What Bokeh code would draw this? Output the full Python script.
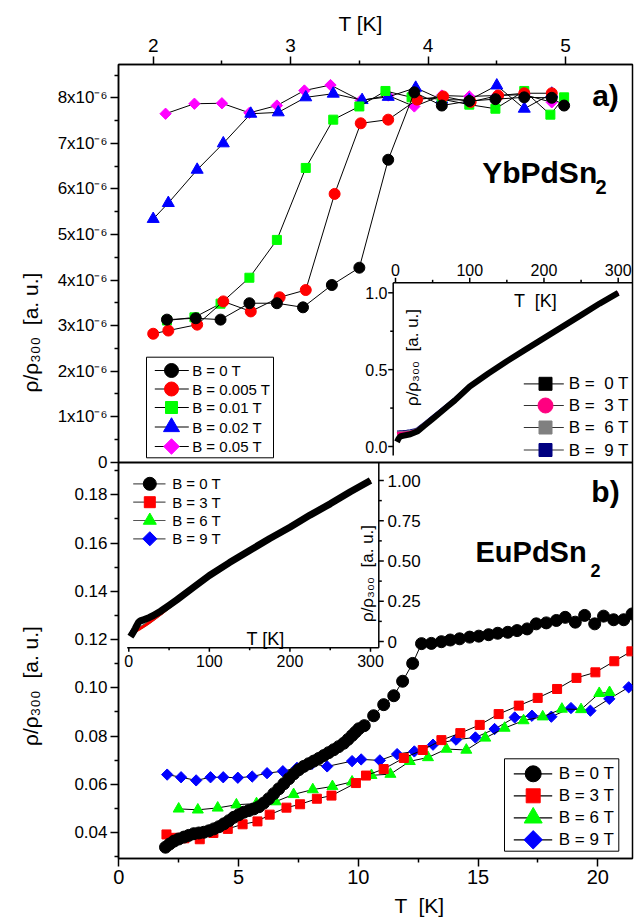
import math
from bokeh.plotting import figure
from bokeh.models import Range1d, LinearAxis, FixedTicker, Label, Span, Title
from bokeh.layouts import row, column
from bokeh.embed import file_html
from bokeh.resources import INLINE
from bokeh.core.properties import value

FONT = "Liberation Sans"

# ================= Panel a) YbPdSn2 : rho/rho300 vs T (low fields) =================
A_T_B0 = [2.10, 2.31, 2.49, 2.70, 2.90, 3.09, 3.30, 3.50, 3.71, 3.90, 4.10, 4.30, 4.49, 4.70, 4.90, 4.99]
A_R_B0 = [3.13e-6, 3.16e-6, 3.13e-6, 3.49e-6, 3.49e-6, 3.40e-6, 3.89e-6, 4.27e-6, 6.64e-6, 8.12e-6,
          7.83e-6, 7.93e-6, 7.97e-6, 8.01e-6, 8.00e-6, 7.83e-6]
A_T_B0005 = [2.00, 2.11, 2.32, 2.51, 2.71, 2.92, 3.11, 3.32, 3.51, 3.71, 3.92, 4.11, 4.31, 4.51, 4.70, 4.90]
A_R_B0005 = [2.82e-6, 2.89e-6, 3.02e-6, 3.53e-6, 3.31e-6, 3.62e-6, 3.78e-6, 5.89e-6, 7.44e-6, 7.52e-6,
             7.96e-6, 8.03e-6, 7.91e-6, 8.05e-6, 8.10e-6, 8.10e-6]
A_T_B001 = [2.10, 2.30, 2.49, 2.70, 2.90, 3.11, 3.31, 3.50, 3.69, 3.88, 4.10, 4.30, 4.49, 4.70, 4.89, 4.99]
A_R_B001 = [3.11e-6, 3.18e-6, 3.48e-6, 4.05e-6, 4.88e-6, 6.46e-6, 7.52e-6, 7.81e-6, 8.15e-6, 8.01e-6,
            7.97e-6, 7.85e-6, 7.76e-6, 8.15e-6, 7.63e-6, 8.01e-6]
A_T_B002 = [2.00, 2.11, 2.32, 2.51, 2.71, 2.91, 3.11, 3.31, 3.52, 3.71, 3.91, 4.10, 4.30, 4.50, 4.70, 4.90]
A_R_B002 = [5.34e-6, 5.69e-6, 6.42e-6, 7.00e-6, 7.65e-6, 7.68e-6, 8.01e-6, 8.09e-6, 7.95e-6, 8.02e-6,
            8.22e-6, 7.96e-6, 7.95e-6, 8.27e-6, 7.76e-6, 8.09e-6]
A_T_B005 = [2.09, 2.30, 2.50, 2.70, 2.90, 3.10, 3.29, 3.51, 3.71, 3.90, 4.10, 4.30, 4.50, 4.70, 4.90]
A_R_B005 = [7.65e-6, 7.87e-6, 7.88e-6, 7.67e-6, 7.83e-6, 8.16e-6, 8.28e-6, 7.94e-6, 8.05e-6, 7.81e-6,
            8.05e-6, 8.03e-6, 8.05e-6, 8.07e-6, 7.90e-6]

A_XTICKS = [2, 3, 4, 5]
A_XMINOR = [2.5, 3.5, 4.5]
A_YTICKS = [0.0, 1e-6, 2e-6, 3e-6, 4e-6, 5e-6, 6e-6, 7e-6, 8e-6]
A_YLABELS = ["0", "1x10⁻⁶", "2x10⁻⁶", "3x10⁻⁶", "4x10⁻⁶", "5x10⁻⁶", "6x10⁻⁶", "7x10⁻⁶", "8x10⁻⁶"]
A_YMINOR = [0.5e-6, 1.5e-6, 2.5e-6, 3.5e-6, 4.5e-6, 5.5e-6, 6.5e-6, 7.5e-6, 8.5e-6]

# inset of panel a): 0-300 K
IA_T = [2, 4, 6, 10, 15, 20, 25, 30, 40, 50, 60, 70, 80, 100, 125, 150, 175, 200, 225, 250, 275, 300]
IA_R_0T = [0.03, 0.05, 0.065, 0.07, 0.075, 0.08, 0.09, 0.10, 0.14, 0.18, 0.22, 0.26, 0.30, 0.39,
           0.475, 0.555, 0.63, 0.705, 0.78, 0.855, 0.93, 1.0]
IA_R_3T = [0.085, 0.086, 0.087, 0.088, 0.09, 0.093, 0.10, 0.11, 0.148, 0.187, 0.226, 0.265, 0.304,
           0.392, 0.477, 0.556, 0.631, 0.706, 0.78, 0.855, 0.93, 1.0]
IA_R_6T = [0.09, 0.09, 0.091, 0.092, 0.094, 0.097, 0.103, 0.113, 0.151, 0.19, 0.229, 0.268, 0.307,
           0.394, 0.478, 0.557, 0.632, 0.707, 0.781, 0.855, 0.93, 1.0]
IA_R_9T = [0.095, 0.095, 0.096, 0.097, 0.099, 0.102, 0.107, 0.117, 0.155, 0.194, 0.233, 0.272, 0.311,
           0.397, 0.48, 0.559, 0.634, 0.708, 0.782, 0.856, 0.93, 1.0]
IA_XTICKS = [0, 100, 200, 300]
IA_XMINOR = [50, 150, 250]
IA_YTICKS = [0.0, 0.5, 1.0]
IA_YLABELS = ["0.0", "0.5", "1.0"]
IA_YMINOR = [0.25, 0.75]

# ================= Panel b) EuPdSn2 =================
B_T_0T = [1.95, 2.12, 2.30, 2.50, 2.72, 2.92, 3.13, 3.34, 3.55, 3.76, 3.97, 4.18, 4.39, 4.60, 4.80,
          5.01, 5.22, 5.43, 5.64, 5.85, 6.05, 6.26, 6.47, 6.68, 6.89, 7.10, 7.30, 7.51, 7.72, 7.93,
          8.14, 8.35, 8.56, 8.76, 8.97, 9.18, 9.39, 9.57, 9.74, 9.88, 10.02,
          10.25, 10.64, 11.06, 11.48, 11.85, 12.27, 12.64, 13.05, 13.47, 13.84, 14.23, 14.65, 15.03,
          15.44, 15.82, 16.24, 16.63, 17.05, 17.43, 17.85, 18.27, 18.64, 19.06, 19.45, 19.87, 20.24,
          20.66, 21.08, 21.43]
B_R_0T = [0.0339, 0.0352, 0.0364, 0.0373, 0.0381, 0.0388, 0.0395, 0.0398, 0.0401, 0.0407, 0.0415,
          0.0424, 0.0436, 0.0449, 0.0463, 0.0474, 0.0484, 0.0491, 0.0498, 0.0507, 0.0522, 0.0540,
          0.0561, 0.0581, 0.0602, 0.0623, 0.0643, 0.0660, 0.0674, 0.0685, 0.0696, 0.0707, 0.0719,
          0.0731, 0.0743, 0.0756, 0.0770, 0.0786, 0.0802, 0.0816, 0.0830,
          0.0843, 0.0884, 0.0930, 0.0967, 0.1027, 0.1101, 0.1183, 0.1184, 0.1191, 0.1198, 0.1203,
          0.1210, 0.1214, 0.1220, 0.1226, 0.1230, 0.1237, 0.1244, 0.1265, 0.1269, 0.1279, 0.1292,
          0.1272, 0.1300, 0.1265, 0.1297, 0.1282, 0.1282, 0.1306]
B_T_3T = [1.99, 2.35, 2.74, 3.38, 3.95, 4.55, 5.17, 5.79, 6.30, 7.00, 7.57, 8.27, 8.88, 9.90, 10.32,
          11.06, 11.90, 12.69, 13.47, 14.26, 15.07, 15.86, 16.70, 17.49, 18.30, 19.11, 19.90, 20.69, 21.40]
B_R_3T = [0.0392, 0.0378, 0.0376, 0.0372, 0.0398, 0.0415, 0.0434, 0.0446, 0.0474, 0.0503, 0.0517,
          0.0540, 0.0553, 0.0605, 0.0636, 0.0663, 0.0709, 0.0742, 0.0783, 0.0812, 0.0846, 0.0891,
          0.0926, 0.0958, 0.0995, 0.1041, 0.1064, 0.1110, 0.1151]
B_T_6T = [2.50, 3.30, 4.13, 4.91, 5.75, 6.55, 7.30, 8.10, 8.92, 9.74, 10.55, 11.34, 12.15, 12.91,
          13.68, 14.51, 15.30, 16.11, 16.90, 17.70, 18.50, 19.30, 20.06, 20.49]
B_R_6T = [0.0498, 0.0494, 0.0502, 0.0515, 0.0520, 0.0528, 0.0558, 0.0578, 0.0591, 0.0610, 0.0637,
          0.0642, 0.0695, 0.0711, 0.0746, 0.0742, 0.0792, 0.0833, 0.0864, 0.0880, 0.0912, 0.0910,
          0.0977, 0.0981]
B_T_9T = [2.02, 2.60, 3.23, 3.83, 4.36, 4.97, 5.57, 6.19, 6.85, 7.44, 8.07, 8.70, 9.74, 10.12, 10.90,
          11.62, 12.34, 13.12, 14.08, 14.89, 15.69, 16.53, 17.25, 18.06, 18.88, 19.69, 20.48, 21.29]
B_R_9T = [0.0640, 0.0629, 0.0616, 0.0629, 0.0629, 0.0627, 0.0632, 0.0646, 0.0654, 0.0668, 0.0685,
          0.0674, 0.0696, 0.0703, 0.0699, 0.0725, 0.0736, 0.0764, 0.0785, 0.0794, 0.0829, 0.0877,
          0.0884, 0.0880, 0.0916, 0.0905, 0.0954, 0.1002]

B_XTICKS = [0, 5, 10, 15, 20]
B_XMINOR = [2.5, 7.5, 12.5, 17.5]
B_YTICKS = [0.04, 0.06, 0.08, 0.10, 0.12, 0.14, 0.16, 0.18]
B_YLABELS = ["0.04", "0.06", "0.08", "0.10", "0.12", "0.14", "0.16", "0.18"]
B_YMINOR = [0.03, 0.05, 0.07, 0.09, 0.11, 0.13, 0.15, 0.17, 0.19]

# inset of panel b): 0-300 K
IB_T = [2, 4, 6, 8, 10, 12, 14, 17, 20, 25, 30, 40, 50, 60, 80, 100, 125, 150, 175, 200, 225, 250, 275, 300]
IB_R_0T = [0.03, 0.045, 0.062, 0.08, 0.10, 0.118, 0.128, 0.132, 0.138, 0.148, 0.16, 0.19, 0.225, 0.26,
           0.335, 0.41, 0.49, 0.565, 0.64, 0.71, 0.785, 0.855, 0.93, 1.0]
IB_R_3T = [0.045, 0.05, 0.056, 0.062, 0.068, 0.074, 0.08, 0.09, 0.10, 0.117, 0.135, 0.172, 0.212, 0.25,
           0.328, 0.405, 0.487, 0.563, 0.639, 0.71, 0.785, 0.855, 0.93, 1.0]
IB_R_6T = [0.05, 0.054, 0.059, 0.064, 0.07, 0.076, 0.082, 0.091, 0.101, 0.118, 0.136, 0.173, 0.213, 0.251,
           0.329, 0.406, 0.488, 0.563, 0.639, 0.71, 0.785, 0.855, 0.93, 1.0]
IB_R_9T = [0.06, 0.062, 0.065, 0.069, 0.074, 0.079, 0.085, 0.093, 0.103, 0.12, 0.137, 0.174, 0.214, 0.252,
           0.33, 0.407, 0.488, 0.564, 0.64, 0.71, 0.785, 0.855, 0.93, 1.0]
IB_XTICKS = [0, 100, 200, 300]
IB_XMINOR = [50, 150, 250]
IB_YTICKS = [0.0, 0.25, 0.5, 0.75, 1.0]
IB_YLABELS = ["0", "0.25", "0.50", "0.75", "1.00"]
IB_YMINOR = [0.125, 0.375, 0.625, 0.875]

LEG_A = ["B = 0 T", "B = 0.005 T", "B = 0.01 T", "B = 0.02 T", "B = 0.05 T"]
LEG_IA = ["B = \u00a00 T", "B = \u00a03 T", "B = \u00a06 T", "B = \u00a09 T"]
LEG_B = ["B = 0 T", "B = 3 T", "B = 6 T", "B = 9 T"]
YLABEL = "ρ/ρ₃₀₀ \u00a0[a. u.]"

# ================= layout (page pixel calibration; page origin = canvas origin) =================
def lin(p, p0, v0, p1, v1):
    return v0 + (p - p0) * (v1 - v0) / (p1 - p0)

PAGE_W, PAGE_H = 635, 919
STRIP_W = 48          # left strip with the rotated y titles
BOT_H = 26            # bottom strip with the x title
MAIN_H = PAGE_H - BOT_H
FL, FR, FT, FB = 118, 632, 64, 858   # frame of main plot, page px
SPLIT = 462

def d_x(px): return lin(px, 118.3, 0.0, 597.3, 20.0)       # panel b T
def d_y(py): return lin(py, 832.0, 0.04, 494.3, 0.18)      # panel b rho
def a_x(px): return lin(px, 152.7, 2.0, 565.0, 5.0)        # panel a T
def a_y(py): return lin(py, 461.7, 0.0, 97.3, 8e-6)        # panel a rho
def ia_x(px): return lin(px, 395.0, 0.0, 617.7, 300.0)
def ia_y(py): return lin(py, 446.0, 0.0, 292.3, 1.0)
def ib_x(px): return lin(px, 128.3, 0.0, 370.0, 300.0)
def ib_y(py): return lin(py, 641.0, 0.0, 480.0, 1.0)

def a_to_d(v):  # position of a panel-a value on the shared left axis
    return d_y(lin(v, 0.0, 461.7, 8e-6, 97.3))

p = figure(width=PAGE_W - STRIP_W, height=MAIN_H,
           x_range=Range1d(d_x(FL), d_x(FR)), y_range=Range1d(d_y(FB), d_y(FT)),
           output_backend="svg", toolbar_location=None, title_location=None,
           min_border_left=FL - STRIP_W, min_border_right=PAGE_W - FR,
           min_border_top=FT, min_border_bottom=MAIN_H - FB)
p.extra_x_ranges = {"xa": Range1d(a_x(FL), a_x(FR)), "iax": Range1d(ia_x(FL), ia_x(FR)),
                    "ibx": Range1d(ib_x(FL), ib_x(FR))}
p.extra_y_ranges = {"ya": Range1d(a_y(FB), a_y(FT)), "iay": Range1d(ia_y(FB), ia_y(FT)),
                    "iby": Range1d(ib_y(FB), ib_y(FT))}
p.xgrid.visible = False
p.ygrid.visible = False
p.outline_line_color = "black"
p.outline_line_width = 1.5
p.background_fill_color = "white"
p.border_fill_color = "white"

def style(ax, fs):
    ax.axis_line_color = "black"; ax.axis_line_width = 1.5
    ax.major_tick_line_color = "black"; ax.major_tick_line_width = 1.5
    ax.minor_tick_line_color = "black"; ax.minor_tick_line_width = 1.5
    ax.major_tick_in = 0; ax.major_tick_out = 8
    ax.minor_tick_in = 0; ax.minor_tick_out = 4
    ax.major_label_text_font = FONT
    ax.major_label_text_font_size = fs
    ax.major_label_text_color = "black"

bax = p.below[0]
bax.ticker = FixedTicker(ticks=B_XTICKS, minor_ticks=B_XMINOR)
style(bax, "20px")
bax.major_label_standoff = 3

lax = p.left[0]
l_ticks = B_YTICKS + [a_to_d(v) for v in A_YTICKS]
l_minor = B_YMINOR + [a_to_d(v) for v in A_YMINOR]
lax.ticker = FixedTicker(ticks=l_ticks, minor_ticks=l_minor)
overrides = {}
for t, s_ in zip(B_YTICKS, B_YLABELS):
    overrides[t] = s_
for t, s_ in zip(A_YTICKS, A_YLABELS):
    overrides[a_to_d(t)] = s_
lax.major_label_overrides = overrides
lax.major_label_standoff = 3
style(lax, "17px")

tax = LinearAxis(x_range_name="xa", ticker=FixedTicker(ticks=A_XTICKS, minor_ticks=A_XMINOR))
style(tax, "19px")
p.add_layout(tax, "above")

# top axis title (T [K]) as a plot title placed above the top axis
p.add_layout(Title(text="T [K]", align="left", offset=338 - FL, standoff=2, text_font=FONT,
                   text_font_size="21px", text_font_style="normal", text_color="black"), "above")

p.add_layout(Span(location=d_y(SPLIT), dimension="width", line_color="black", line_width=2))

# ---------------- helpers ----------------
def txt(xs, ys, texts, size, xr="default", yr="default", align="left", angle=0.0, bold=False, fig=None):
    (fig or p).text(x=xs, y=ys, text=texts, x_range_name=xr, y_range_name=yr, text_font=value(FONT),
                    text_font_size=value(size), text_align=align, text_baseline="middle", angle=angle,
                    text_color="black", text_font_style="bold" if bold else "normal")

def seg(x0, y0, x1, y1, xr, yr, color="black", width=1.5):
    p.segment(x0=x0, y0=y0, x1=x1, y1=y1, x_range_name=xr, y_range_name=yr, line_color=color, line_width=width)

def series(xs, ys, marker, color, size, xr="default", yr="default", angle=0.0):
    p.line(xs, ys, line_color="black", line_width=1, x_range_name=xr, y_range_name=yr)
    p.scatter(xs, ys, marker=marker, size=size, fill_color=color, line_color=color, angle=angle,
              x_range_name=xr, y_range_name=yr)

def label(text, px, py, size, align="center", bold=False):
    p.add_layout(Label(x=d_x(px), y=d_y(py), text=text, text_font=FONT, text_font_size=size,
                       text_font_style="bold" if bold else "normal", text_align=align,
                       text_baseline="middle", text_color="black"))

def legend(labels, markers, box, ys, gx0, gx1, mx, lx, fs, line_color):
    if box is not None:
        l, t, r, b = box
        p.quad(left=[d_x(l)], right=[d_x(r)], top=[d_y(t)], bottom=[d_y(b)], fill_color="white",
               line_color="black", line_width=1)
    yy = [d_y(y) for y in ys]
    seg([d_x(gx0)] * len(ys), yy, [d_x(gx1)] * len(ys), yy, "default", "default", color=line_color, width=1.2)
    for y, (mk, col, sz, ang) in zip(yy, markers):
        p.scatter([d_x(mx)], [y], marker=mk, size=sz, fill_color=col, line_color=col, angle=ang)
    txt([d_x(lx)] * len(ys), yy, labels, fs)

DIAM = math.pi / 4

# ---------------- inset a) ----------------
for ys, col, w in [(IA_R_9T, "#000080", 3), (IA_R_6T, "#808080", 3), (IA_R_3T, "#FF0080", 3), (IA_R_0T, "black", 6)]:
    p.line(IA_T, ys, line_color=col, line_width=w, x_range_name="iax", y_range_name="iay")
ia_l, ia_t, ia_b = ia_x(392.7), ia_y(282.3), ia_y(455)
seg([ia_l, ia_l], [ia_b, ia_t], [ia_l, ia_x(FR)], [ia_t, ia_t], "iax", "iay")
seg(IA_XTICKS, [ia_t] * 4, IA_XTICKS, [ia_y(277.3)] * 4, "iax", "iay")
seg(IA_XMINOR, [ia_t] * 3, IA_XMINOR, [ia_y(279.3)] * 3, "iax", "iay")
seg([ia_l] * 3, IA_YTICKS, [ia_x(387.7)] * 3, IA_YTICKS, "iax", "iay")
seg([ia_l] * 2, IA_YMINOR, [ia_x(389.7)] * 2, IA_YMINOR, "iax", "iay")
txt(IA_XTICKS, [ia_y(269)] * 4, [str(t) for t in IA_XTICKS], "16px", "iax", "iay", align="center")
txt([ia_x(387)] * 3, IA_YTICKS, IA_YLABELS, "16px", "iax", "iay", align="right")
txt([ia_x(535)], [ia_y(300.5)], ["T \u00a0[K]"], "18px", "iax", "iay", align="center")
txt([ia_x(411.7)], [ia_y(357)], [YLABEL], "17px", "iax", "iay", align="center", angle=math.pi / 2)

# ---------------- inset b) ----------------
for ys, col, w in [(IB_R_9T, "#0000FF", 3), (IB_R_6T, "#00FF00", 3), (IB_R_3T, "#FF0000", 3), (IB_R_0T, "black", 7)]:
    p.line(IB_T, ys, line_color=col, line_width=w, x_range_name="ibx", y_range_name="iby")
ib_l, ib_r, ib_b, ib_t = ib_x(126.7), ib_x(378.3), ib_y(647.3), ib_y(SPLIT)
seg([ib_l, ib_r], [ib_b, ib_b], [ib_r, ib_r], [ib_b, ib_t], "ibx", "iby")
seg(IB_XTICKS, [ib_b] * 4, IB_XTICKS, [ib_y(651.3)] * 4, "ibx", "iby")
seg(IB_XMINOR, [ib_b] * 3, IB_XMINOR, [ib_y(649.8)] * 3, "ibx", "iby")
seg([ib_r] * 5, IB_YTICKS, [ib_x(383.3)] * 5, IB_YTICKS, "ibx", "iby")
seg([ib_r] * 4, IB_YMINOR, [ib_x(381.3)] * 4, IB_YMINOR, "ibx", "iby")
txt(IB_XTICKS, [ib_y(660)] * 4, [str(t) for t in IB_XTICKS], "16px", "ibx", "iby", align="center")
txt([ib_x(387)] * 5, IB_YTICKS, IB_YLABELS, "17px", "ibx", "iby", align="left")
txt([ib_x(265)], [ib_y(638.5)], ["T [K]"], "18px", "ibx", "iby", align="center")
txt([ib_x(367)], [ib_y(573)], [YLABEL], "17px", "ibx", "iby", align="center", angle=math.pi / 2)

# ---------------- main data panel a) ----------------
series(A_T_B005, A_R_B005, "square", "#FF00FF", 8, "xa", "ya", angle=DIAM)
series(A_T_B002, A_R_B002, "triangle", "#0000FF", 12, "xa", "ya")
series(A_T_B001, A_R_B001, "square", "#00FF00", 9, "xa", "ya")
series(A_T_B0005, A_R_B0005, "circle", "#FF0000", 11, "xa", "ya")
series(A_T_B0, A_R_B0, "circle", "black", 11, "xa", "ya")

# ---------------- main data panel b) ----------------
series(B_T_9T, B_R_9T, "square", "#0000FF", 8, angle=DIAM)
series(B_T_6T, B_R_6T, "triangle", "#00FF00", 11)
series(B_T_3T, B_R_3T, "square", "#FF0000", 9)
series(B_T_0T, B_R_0T, "circle", "black", 12)

# ---------------- legends ----------------
legend(LEG_A, [("circle", "black", 14, 0), ("circle", "#FF0000", 14, 0), ("square", "#00FF00", 12, 0),
               ("triangle", "#0000FF", 16, 0), ("square", "#FF00FF", 11, DIAM)],
       (146, 356.7, 273, 457.3), [370, 388.5, 407, 426.5, 446], 154.3, 188.3, 171, 191.7, "15px", "black")
legend(LEG_IA, [("square", "black", 13, 0), ("circle", "#FF0080", 15, 0), ("square", "#808080", 13, 0),
                ("square", "#000080", 13, 0)],
       None, [383.3, 405, 427, 449.5], 523.3, 563.3, 545, 568.3, "17px", "#333333")
legend(LEG_B, [("circle", "black", 16, 0), ("square", "#FF0000", 14, 0), ("triangle", "#00FF00", 18, 0),
               ("square", "#0000FF", 13, DIAM)],
       (504, 758.3, 618.3, 850.7), [773.3, 795.3, 817.3, 839.3], 513.3, 551.7, 532.7, 558.3, "17px", "black")
legend(LEG_B, [("circle", "black", 13, 0), ("square", "#FF0000", 11, 0), ("triangle", "#00FF00", 13, 0),
               ("square", "#0000FF", 10, DIAM)],
       None, [483.3, 501.7, 520, 538.3], 132.7, 165, 149.3, 171.7, "15px", "#555555")

# ---------------- texts inside the panels ----------------
label("a)", 605, 95, "30px", bold=True)
label("YbPdSn", 481.7, 172, "30px", align="left", bold=True)
label("2", 595, 186.5, "20px", align="left", bold=True)
label("b)", 605, 491, "30px", bold=True)
label("EuPdSn", 475, 551, "29px", align="left", bold=True)
label("2", 590, 569.5, "18px", align="left", bold=True)

# ---------------- strips carrying the outer axis titles ----------------
def strip(w, h):
    f = figure(width=w, height=h, x_range=Range1d(0, w), y_range=Range1d(0, h),
               output_backend="svg", toolbar_location=None, title_location=None,
               x_axis_location=None, y_axis_location=None,
               min_border_left=0, min_border_right=0, min_border_top=0, min_border_bottom=0)
    f.xgrid.visible = False
    f.ygrid.visible = False
    f.outline_line_color = None
    f.background_fill_color = "white"
    f.border_fill_color = "white"
    return f

s = strip(STRIP_W, MAIN_H)   # page x 0..48, page y 0..MAIN_H
txt([30, 30], [MAIN_H - 301.5, MAIN_H - 699], [YLABEL, YLABEL], "21px", align="center",
    angle=math.pi / 2, fig=s)

bstrip = strip(PAGE_W, BOT_H)   # page y MAIN_H..PAGE_H
txt([419], [PAGE_H - 905], ["T \u00a0[K]"], "21px", align="center", fig=bstrip)

layout = column(row(s, p), bstrip)
open("out.html", "w").write(file_html(layout, INLINE))
